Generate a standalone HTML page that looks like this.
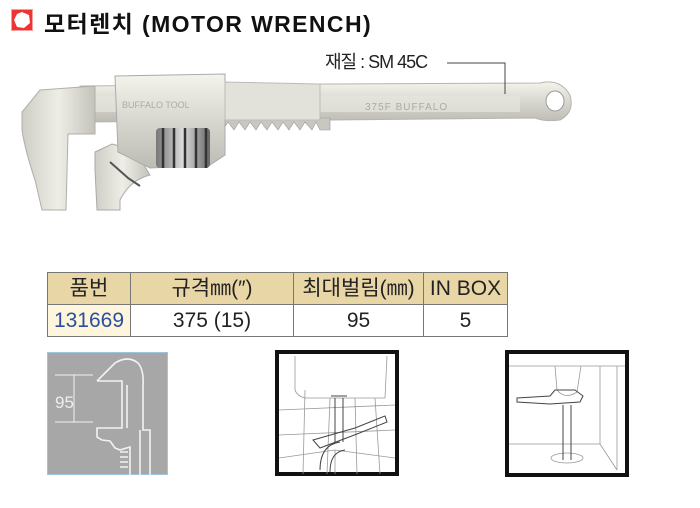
<!DOCTYPE html>
<html><head><meta charset="utf-8">
<style>
*{margin:0;padding:0;box-sizing:border-box}
body{width:700px;height:508px;background:#fff;position:relative;overflow:hidden;font-family:"Liberation Sans","Noto Sans CJK KR",sans-serif}
.abs{position:absolute}
table{position:absolute;left:47px;top:272px;border-collapse:collapse;font-family:"Liberation Sans","Noto Sans CJK KR",sans-serif}
td{border:1px solid #777;text-align:center;font-size:21px;color:#222;height:32px;padding:0;line-height:30px}
tr.h td{background:#e9d6a6}
</style></head><body>
<div class="abs" style="left:11px;top:9px;width:22px;height:22px;background:#e33;border:1px solid #f4a0a0"></div>
<svg class="abs" style="left:11px;top:9px" width="22" height="22"><polygon points="11,3 18,6 19,14 13,19 6,18 3,11 6,5" fill="#fff"/></svg>
<div class="abs" style="left:44px;top:5px;font-size:23px;font-weight:bold;color:#111;letter-spacing:1.4px">모터렌치 (MOTOR WRENCH)</div>

<svg class="abs" style="left:0;top:40px" width="600" height="180" viewBox="0 40 600 180">
<defs>
<linearGradient id="g1" x1="0" y1="0" x2="0" y2="1"><stop offset="0" stop-color="#f4f3ec"/><stop offset=".5" stop-color="#d8d7cf"/><stop offset="1" stop-color="#bdbcb4"/></linearGradient>
<linearGradient id="g2" x1="0" y1="0" x2="1" y2="0"><stop offset="0" stop-color="#cfcec6"/><stop offset=".5" stop-color="#eeede6"/><stop offset="1" stop-color="#c4c3bb"/></linearGradient>
<linearGradient id="g3" x1="0" y1="0" x2="1" y2="0"><stop offset="0" stop-color="#777"/><stop offset=".5" stop-color="#ddd"/><stop offset="1" stop-color="#666"/></linearGradient>
</defs>
<path d="M80,86 L330,84 L540,83 Q560,78 570,95 Q575,112 560,120 Q545,122 535,118 L330,120 L80,122 Z" fill="url(#g1)" stroke="#b6b5ad"/>
<ellipse cx="555" cy="101" rx="9" ry="10" fill="#fff" stroke="#999"/>
<rect x="80" y="96" width="440" height="16" fill="#e6e5de" opacity=".7"/>
<path d="M205,118 L330,118 L330,130 L320,130 L316,122 L312,130 L305,122 L300,130 L294,122 L289,130 L283,122 L278,130 L272,122 L267,130 L261,122 L256,130 L250,122 L245,130 L239,122 L234,130 L228,122 L223,130 L217,122 L212,130 L205,130 Z" fill="#c9c8c0" stroke="#999" stroke-width=".6"/>
<path d="M40,90 L95,86 L95,134 L68,134 L66,210 L42,210 L35,180 Q25,150 22,130 L22,112 Z" fill="url(#g2)" stroke="#b0afa7"/>
<path d="M95,152 L112,144 L135,150 L150,175 Q130,180 120,200 L120,210 L97,210 L95,170 Z" fill="url(#g2)" stroke="#aaa"/>
<path d="M110,162 L128,178 L140,186" stroke="#555" stroke-width="2" fill="none"/>
<path d="M115,76 L225,74 L225,155 L210,165 L150,168 L118,152 Z" fill="url(#g1)" stroke="#aaa"/>
<path d="M225,82 L320,84 L320,120 L225,120 Z" fill="#e2e1da" stroke="#bbb"/>
<text x="122" y="108" font-size="9" fill="#aaa" font-family="Liberation Sans,sans-serif">BUFFALO TOOL</text>
<text x="365" y="110" font-size="10" fill="#aaa" font-family="Liberation Sans,sans-serif" letter-spacing="1">375F     BUFFALO</text>
<rect x="156" y="128" width="54" height="40" rx="4" fill="url(#g3)"/>
<g stroke="#333" stroke-width="2.5"><line x1="163" y1="128" x2="163" y2="168"/><line x1="174" y1="128" x2="174" y2="168"/><line x1="185" y1="128" x2="185" y2="168"/><line x1="196" y1="128" x2="196" y2="168"/><line x1="206" y1="128" x2="206" y2="168"/></g>
<text x="325" y="68" font-size="18" fill="#222" font-family="Liberation Sans,Noto Sans CJK KR,sans-serif" letter-spacing="-1">재질 : SM 45C</text>
<polyline points="447,63 505,63 505,94" fill="none" stroke="#444" stroke-width="1"/>
</svg>

<table>
<tr class="h"><td style="width:83px">품번</td><td style="width:163px">규격㎜(″)</td><td style="width:130px">최대벌림(㎜)</td><td style="width:84px">IN BOX</td></tr>
<tr><td style="background:#fdf6dc;color:#2a4fa0">131669</td><td>375 (15)</td><td>95</td><td>5</td></tr>
</table>

<svg class="abs" style="left:47px;top:352px" width="121" height="123" viewBox="47 352 121 123">
<rect x="47.5" y="352.5" width="120" height="122" fill="#a7a7a7" stroke="#9cc6e0"/>
<g fill="none" stroke="#f2f2f2" stroke-width="1.6">
<path d="M97,381 L115,363 Q128,355 138,363 Q144,370 143,385 L143,430 L150,430 L150,475"/>
<path d="M97,381 L122,381 L122,428 L97,428 L97,437 L102,440 L110,441 L115,448 L120,450 L130,447 L130,475"/>
<path d="M127,385 L127,428 M140,430 L140,475"/>
<path d="M120,452 L128,452 M120,457 L128,457 M120,462 L128,462 M120,467 L128,467"/>
<path d="M55,375 L93,375 M55,422 L93,422 M74,375 L74,422" stroke-width="1"/>
</g>
<text x="55" y="408" font-size="17" fill="#eee" font-family="Liberation Sans,sans-serif">95</text>
</svg>

<svg class="abs" style="left:275px;top:350px" width="124" height="126" viewBox="0 0 124 126">
<rect x="2" y="2" width="120" height="122" fill="#fff" stroke="#111" stroke-width="4"/>
<g fill="none" stroke="#999" stroke-width=".8">
<path d="M20,6 L20,40 Q22,46 30,48 L110,48 L112,6"/>
<path d="M4,60 L120,55 M4,85 L120,80 M4,108 L60,100 L120,108 M30,40 L28,124 M55,48 L52,124 M80,48 L82,124 M100,48 L105,124 M60,100 L60,124"/>
</g>
<g fill="none" stroke="#444" stroke-width="1">
<path d="M60,48 L60,92 M68,48 L68,92 M56,46 L72,46"/>
<path d="M45,120 Q45,95 65,92 M55,122 Q55,102 70,100"/>
<path d="M38,90 L80,78 L110,66 L112,72 L82,84 L45,98 Z"/>
</g>
</svg>

<svg class="abs" style="left:505px;top:350px" width="124" height="127" viewBox="0 0 124 127">
<rect x="2" y="2" width="120" height="123" fill="#fff" stroke="#111" stroke-width="4"/>
<g fill="none" stroke="#999" stroke-width=".8">
<path d="M4,16 L120,16 M4,94 L95,94 L112,120 M95,16 L95,94 M112,16 L112,120"/>
<path d="M50,16 L52,40 Q60,50 72,42 L76,16"/>
<ellipse cx="62" cy="108" rx="16" ry="5"/>
</g>
<g fill="none" stroke="#444" stroke-width="1">
<path d="M58,55 L58,110 M66,55 L66,110"/>
<path d="M12,48 L45,46 L50,40 L70,40 L78,46 L75,52 L45,54 L12,52 Z"/>
</g>
</svg>
</body></html>
